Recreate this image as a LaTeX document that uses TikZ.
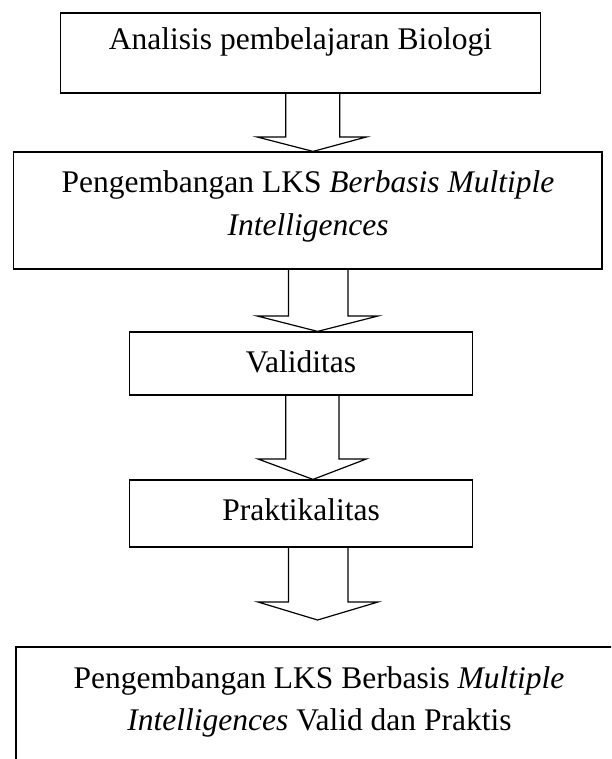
\documentclass[tikz,border=0pt]{standalone}
\usepackage{fontspec}
\setmainfont{Liberation Serif}
\begin{document}
\begin{tikzpicture}[x=1pt,y=-1pt,
  boxnode/.style={draw=black,line width=1.2pt,rectangle,inner sep=0pt,fill=none},
  label/.style={anchor=base,inner sep=0pt,font=\fontsize{31.5}{38}\selectfont},
  arrowline/.style={draw=black,line width=1.2pt,line join=miter}]
\useasboundingbox (0,0) rectangle (611,759);
\clip (0,0) rectangle (611,759);
\newcommand\blkarrow[8]{%
  \draw[arrowline] (#4,0 |- #1.south) -- (#4,#8) -- (#6,#8) -- (#3,0 |- #2) -- (#7,#8) -- (#5,#8) -- (#5,0 |- #1.south);}
% boxes
\node[boxnode,minimum width=480pt,minimum height=80pt] (b1) at (300.5,53) {};
\node[boxnode,minimum width=588.4pt,minimum height=117pt] (b2) at (307.8,210.5) {};
\node[boxnode,minimum width=342.5pt,minimum height=63pt] (b3) at (301,363.5) {};
\node[boxnode,minimum width=342.5pt,minimum height=67pt] (b4) at (301,513.5) {};
\node[boxnode,minimum width=606pt,minimum height=153pt] (b5) at (319,723.5) {};
% texts
\node[label] (t1) at (300.5,50) {Analisis pembelajaran Biologi};
\node[label] (t2a) at (308,193) {Pengembangan LKS \textit{Berbasis Multiple}};
\node[label] (t2b) at (308,235) {\textit{Intelligences}};
\node[label] (t3) at (301,372) {Validitas};
\node[label] (t4) at (301,520) {Praktikalitas};
\node[label] (t5a) at (319,688) {Pengembangan LKS Berbasis \textit{Multiple}};
\node[label] (t5b) at (319.5,730) {\textit{Intelligences} Valid dan Praktis};
% arrows
\coordinate (tip4) at (317.6,620);
\blkarrow{b1}{b2.north}{313}{285.7}{339.8}{257.2}{366.3}{137}
\blkarrow{b2}{b3.north}{317.6}{288.4}{348}{257.2}{378}{316}
\blkarrow{b3}{b4.north}{313}{285.7}{339}{258}{366.3}{459}
\blkarrow{b4}{tip4}{317.6}{288.4}{348}{258}{378}{602}
\end{tikzpicture}
\end{document}
